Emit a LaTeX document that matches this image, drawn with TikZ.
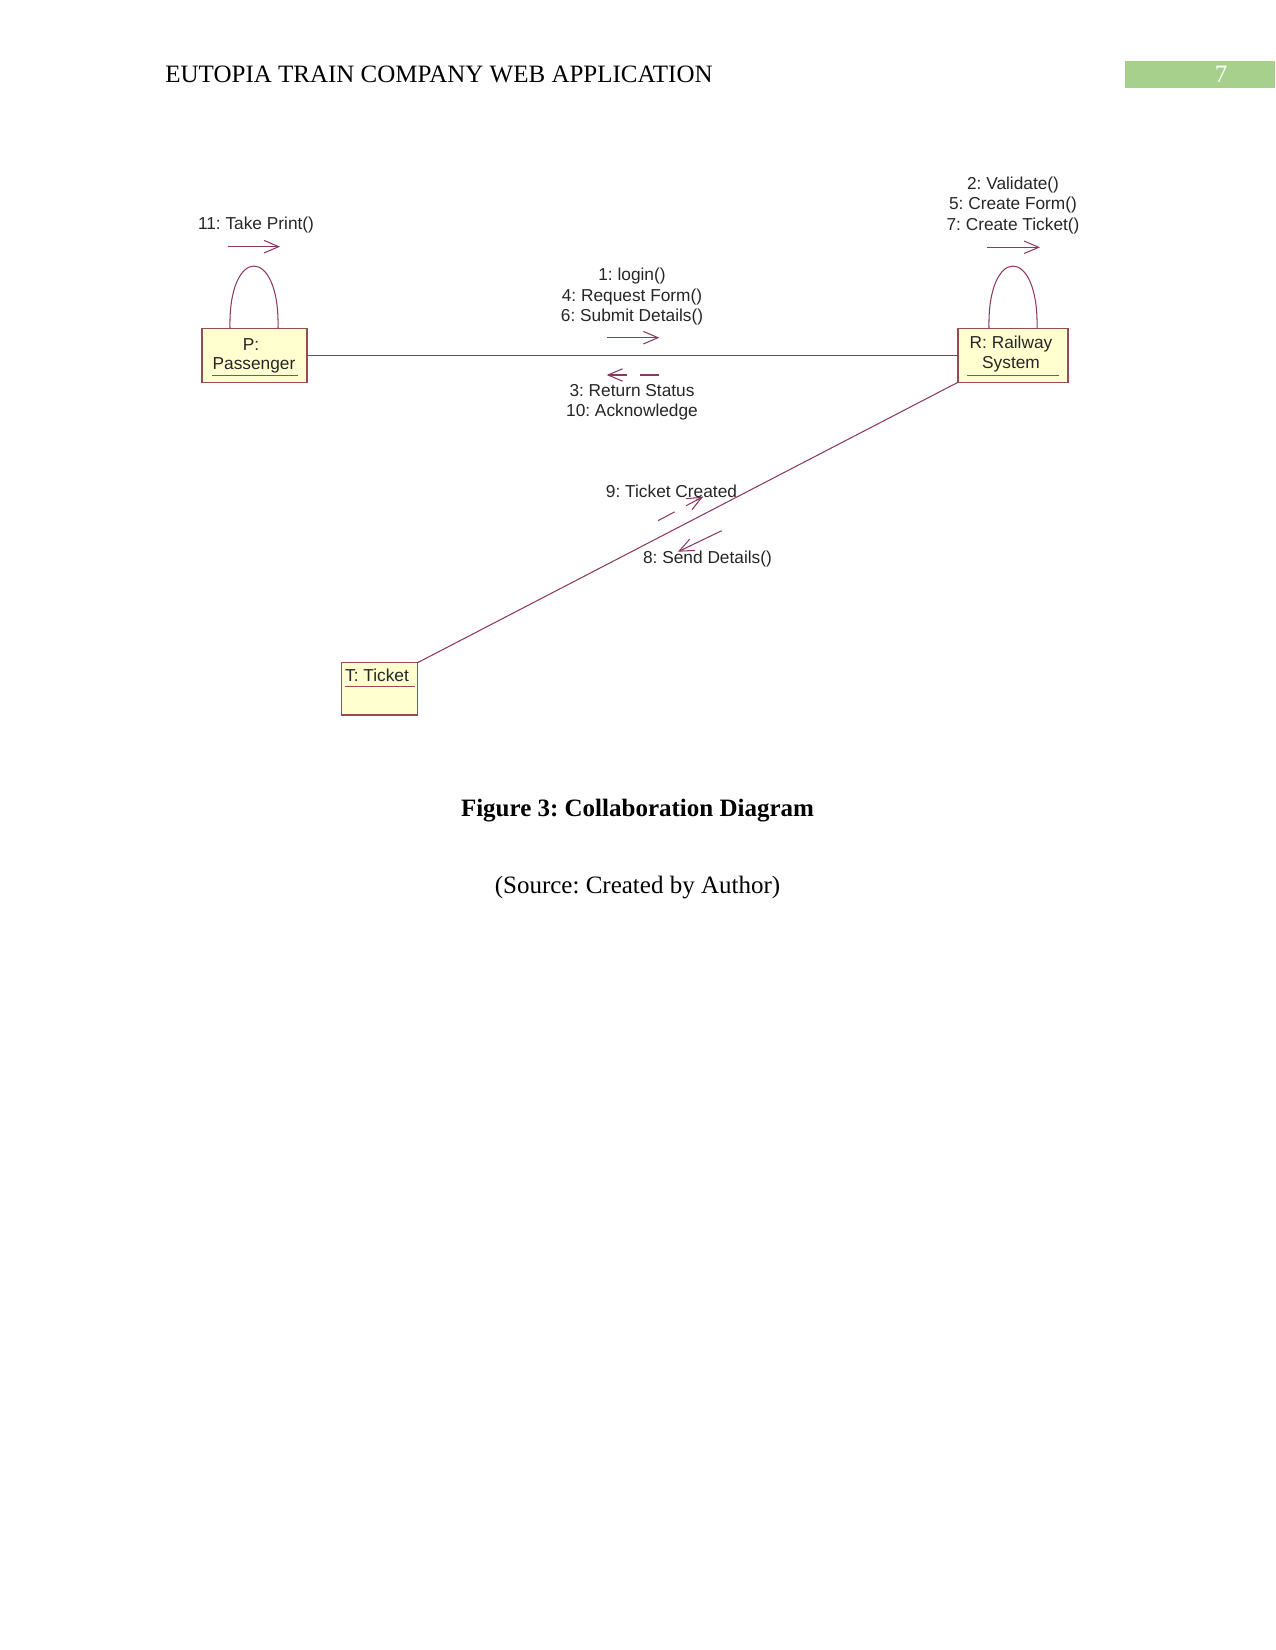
\documentclass[tikz,border=0pt]{standalone}
\usepackage{fontspec}
\setmainfont{Liberation Serif}
\newfontfamily\diagfont{Liberation Sans}
\usetikzlibrary{arrows.meta,calc}
\definecolor{roseline}{RGB}{140,55,100}
\definecolor{roseborder}{RGB}{150,75,90}
\definecolor{rosefill}{RGB}{255,255,208}
\definecolor{hdrgreen}{RGB}{168,208,141}
\frenchspacing
\begin{document}
\begin{tikzpicture}[x=0.48pt,y=-0.48pt,
  obj/.style={draw=roseborder,fill=rosefill,line width=0.55pt,inner sep=0pt,outer sep=0pt},
  lnk/.style={draw=roseline,line width=0.5pt},
  msg/.style={draw=roseline,line width=0.5pt,-{Straight Barb[length=7pt,width=6pt]}},
  dashmsg/.style={draw=roseline,line width=0.5pt,dash pattern=on 9pt off 6.3pt},
  lbl/.style={font=\diagfont\fontsize{8.3pt}{9.8pt}\selectfont,align=center,inner sep=0pt,text=black!85},
  pagetext/.style={font=\fontsize{12pt}{14pt}\selectfont,inner sep=0pt},
]
\useasboundingbox (0,0) rectangle (1275,1650);

% header
\fill[hdrgreen] (1125,61) rectangle (1275,88);
\node[pagetext,anchor=base,text=white] (pg) at (1221,83) {7};
\node[pagetext,anchor=base west] (hdr) at (165,83) {EUTOPIA TRAIN COMPANY WEB APPLICATION};

% objects
\node[obj,minimum width=50.4pt,minimum height=25.9pt] (pass) at (254.5,355.3) {};
\node[obj,minimum width=52.8pt,minimum height=25.9pt] (rail) at (1013,355.3) {};
\node[obj,minimum width=36.5pt,minimum height=25.2pt] (ticket) at (379.8,688.8) {};

\node[lbl] (passA) at (251,345) {P:};
\node[lbl] (passB) at (254,365) {Passenger};
\draw[roseborder,line width=0.5pt] ($(pass.south west)+(10,-6.5)$) -- ($(pass.south east)+(-9,-6.5)$);

\node[lbl] (railA) at (1011,344) {R: Railway};
\node[lbl] (railB) at (1011,364) {System};
\draw[roseborder,line width=0.5pt] ($(rail.south west)+(9,-7)$) -- ($(rail.south east)+(-9,-7)$);

\node[lbl] (tickA) at (377,675.7) {T: Ticket};
\draw[roseborder,line width=0.5pt] ($(ticket.north west)+(3,24)$) -- ($(ticket.north east)+(-3,24)$);

% links
\draw[lnk] (pass.east) -- (rail.west);
\draw[lnk] (rail.south west) -- (ticket.north east);
\draw[lnk] ($(pass.north)+(-24.5,0)$) .. controls +(-2,-83) and +(2,-83) .. ($(pass.north)+(23.5,0)$);
\draw[lnk] ($(rail.north)+(-24,0)$) .. controls +(-2,-83) and +(2,-83) .. ($(rail.north)+(24,0)$);

% message arrows
\coordinate (m11a) at (228,246.7);
\coordinate (m11b) at (280,246.7);
\draw[msg] (m11a) -- (m11b);
\node[lbl] (t11) at (256,225.5) {11: Take Print()};

\coordinate (mRa) at (987,247.3);
\coordinate (mRb) at (1040,247.3);
\draw[msg] (mRa) -- (mRb);
\node[lbl] (tR) at (1013,205.5) {2: Validate()\\5: Create Form()\\7: Create Ticket()};

\coordinate (m1a) at (606.7,337.7);
\coordinate (m1b) at (659.3,337.7);
\draw[msg] (m1a) -- (m1b);
\node[lbl] (t1) at (632,296.7) {1: login()\\4: Request Form()\\6: Submit Details()};

\coordinate (m3a) at (659,375);
\coordinate (m3b) at (606.7,375);
\draw[dashmsg] (m3a) -- (m3b);
\draw[msg] ($(m3b)!0.15!(m3a)$) -- (m3b);
\node[lbl] (t3) at (632,402) {3: Return Status\\10: Acknowledge};

\coordinate (m9a) at (658,520.7);
\coordinate (m9b) at (703,496.7);
\draw[dashmsg] (m9a) -- (m9b);
\draw[msg] ($(m9b)!0.15!(m9a)$) -- (m9b);
\node[lbl] (t9) at (671.5,491) {9: Ticket Created};

\coordinate (m8a) at (721.7,530.7);
\coordinate (m8b) at (678,551.7);
\draw[msg] (m8a) -- (m8b);
\node[lbl] (t8) at (707.5,558.6) {8: Send Details()};

% caption
\node[pagetext,anchor=base,font=\fontsize{12pt}{14pt}\selectfont\bfseries] (cap) at (637.5,816) {Figure 3: Collaboration Diagram};
\node[pagetext,anchor=base] (src) at (637.5,893) {(Source: Created by Author)};
\end{tikzpicture}
\end{document}
